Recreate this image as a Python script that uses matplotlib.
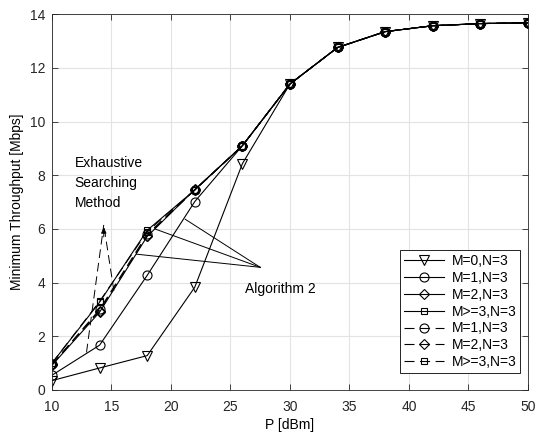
import matplotlib
matplotlib.use("Agg")
import matplotlib.pyplot as plt

plt.rcParams['font.family'] = ['Liberation Sans', 'DejaVu Sans']
plt.rcParams['font.size'] = 10

p_dbm = [10, 14, 18, 22, 26, 30, 34, 38, 42, 46, 50]
tail = [9.1, 11.4, 12.76, 13.35, 13.57, 13.65, 13.68]

# Algorithm 2
alg_m0 = [0.35, 0.82, 1.28, 3.83] + [8.43] + tail[1:]
alg_m1 = [0.55, 1.67, 4.27, 7.02] + tail
alg_m2 = [0.92, 2.9, 5.72, 7.47] + tail
alg_m3 = [1.0, 3.27, 5.95, 7.45] + tail

# Exhaustive searching method
ex_m1 = [0.95, 3.0, 5.8, 7.45] + tail
ex_m2 = [0.95, 2.95, 5.75, 7.46] + tail
ex_m3 = [1.0, 3.3, 5.9, 7.45] + tail

fig = plt.figure(figsize=(5.36, 4.38), dpi=100)
ax = fig.add_axes([0.097, 0.1096, 0.888, 0.858])

kw = dict(color='k', linewidth=0.8, markerfacecolor='none', markeredgewidth=0.8)
dsh = (9, 5)
ax.plot(p_dbm, alg_m0, '-', marker='v', markersize=6.5, label='M=0,N=3', **kw)
ax.plot(p_dbm, alg_m1, '-', marker='o', markersize=6.5, label='M=1,N=3', **kw)
ax.plot(p_dbm, alg_m2, '-', marker='D', markersize=5.5, label='M=2,N=3', **kw)
ax.plot(p_dbm, alg_m3, '-', marker='s', markersize=5, label='M>=3,N=3', **kw)
ax.plot(p_dbm, ex_m1, '--', marker='o', markersize=6.5, dashes=dsh, label='M=1,N=3', **kw)
ax.plot(p_dbm, ex_m2, '--', marker='D', markersize=5.5, dashes=dsh, label='M=2,N=3', **kw)
ax.plot(p_dbm, ex_m3, '--', marker='s', markersize=5, dashes=dsh, label='M>=3,N=3', **kw)

# annotations
ax.text(11.9, 8.44, 'Exhaustive', va='center', ha='left')
ax.text(11.9, 7.7, 'Searching', va='center', ha='left')
ax.text(11.9, 6.95, 'Method', va='center', ha='left')
apex = (14.35, 6.15)
for end in [(12.9, 1.4), (15.2, 3.7)]:
    ax.plot([end[0], apex[0]], [end[1], apex[1]], color='k', lw=0.7, dashes=dsh)
ax.annotate('', xy=apex, xytext=(14.35, 5.6),
            arrowprops=dict(arrowstyle='-|>', color='k', lw=0.7, mutation_scale=8))

ax.text(26.2, 3.75, 'Algorithm 2', va='center', ha='left')
hub = (27.5, 4.57)
for end in [(21.2, 6.36), (18.65, 6.0), (17.1, 5.06)]:
    ax.plot([hub[0], end[0]], [hub[1], end[1]], color='k', lw=0.7)

ax.set_xlim(10, 50)
ax.set_ylim(0, 14)
ax.set_xticks(range(10, 51, 5))
ax.set_yticks(range(0, 15, 2))
ax.set_xlabel('P [dBm]', labelpad=3)
ax.set_ylabel('Minimum Throughput [Mbps]', labelpad=4)
ax.grid(True, color='#e3e3e3', linewidth=0.8)
ax.set_axisbelow(True)
ax.tick_params(direction='in', length=4, width=0.6, top=True, right=True,
               colors='#262626', labelsize=10)
ax.tick_params(axis='x', pad=7)
ax.tick_params(axis='y', pad=5)
for s in ax.spines.values():
    s.set_linewidth(0.6)
    s.set_color('#262626')

leg = ax.legend(loc='lower right', bbox_to_anchor=(0.984, 0.045), borderaxespad=0,
                handlelength=2.9, labelspacing=0.2, fancybox=False,
                edgecolor='k', framealpha=1, handletextpad=0.5, borderpad=0.3)
leg.get_frame().set_linewidth(0.6)

fig.savefig('out.png', dpi=100)
